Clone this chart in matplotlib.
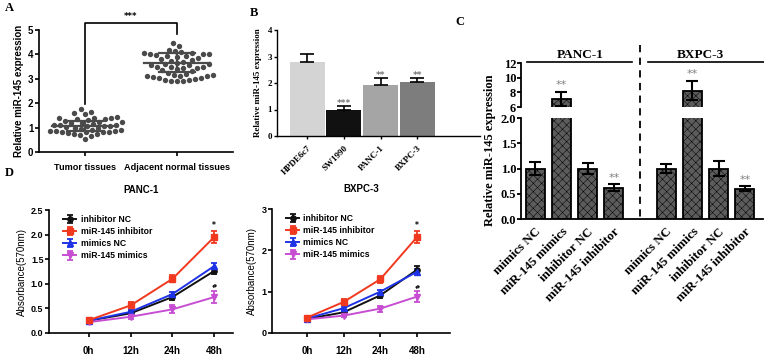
import numpy as np
import matplotlib.pyplot as plt
from matplotlib.transforms import blended_transform_factory
from matplotlib.lines import Line2D

# ---- data ----
# A: scatter of relative miR-145 expression
a_groups = ["Tumor tissues", "Adjacent normal tissues"]
a_tumor = [1.75, 1.62, 1.58, 1.55, 1.42, 1.40, 1.38, 1.36, 1.40, 1.35, 1.30, 1.28,
           1.25, 1.22, 1.20, 1.18, 1.15, 1.12, 1.10, 1.08, 1.05, 1.02, 1.00, 0.98,
           0.95, 0.92, 0.88, 0.85, 0.85, 0.83, 0.82, 0.80, 0.80, 0.78, 0.75, 0.72,
           0.70, 0.65, 0.55, 1.12, 1.05, 0.90]
a_normal = [4.45, 4.35, 4.20, 4.15, 4.10, 4.05, 4.02, 4.00, 3.98, 3.95, 3.90, 3.85,
            3.80, 3.78, 3.75, 3.70, 3.65, 3.62, 3.60, 3.55, 3.50, 3.48, 3.45, 3.40,
            3.35, 3.30, 3.25, 3.20, 3.15, 3.12, 3.10, 3.08, 3.05, 3.00, 2.95, 2.92,
            2.90, 2.90, 3.15, 3.55, 4.05, 4.02, 3.92, 3.50, 3.45, 3.10, 3.05, 2.95]
a_mean = [1.07, 3.66]
a_sd = [0.22, 0.39]

# B: cell lines
b_cells = ["HPDE6c7", "SW1990", "PANC-1", "BXPC-3"]
b_vals = [2.78, 1.00, 1.93, 2.03]
b_err = [0.30, 0.12, 0.25, 0.17]
b_sig = ["", "***", "**", "**"]
b_colors = ["#d4d4d4", "#111111", "#a5a5a5", "#7d7d7d"]

# C: transfection
c_labels = ["mimics NC", "miR-145 mimics", "inhibitor NC", "miR-145 inhibitor"]
c_panc = [1.00, 7.10, 1.00, 0.62]
c_panc_err = [0.12, 1.00, 0.10, 0.07]
c_bxpc = [1.00, 8.20, 1.00, 0.60]
c_bxpc_err = [0.08, 1.30, 0.15, 0.05]
c_panc_sig = ["", "**", "", "**"]
c_bxpc_sig = ["", "**", "", "**"]

# D: absorbance over time
d_time = ["0h", "12h", "24h", "48h"]
d_series = ["inhibitor NC", "miR-145 inhibitor", "mimics NC", "miR-145 mimics"]
d_panc = [[0.25, 0.40, 0.73, 1.26],
          [0.26, 0.56, 1.10, 1.95],
          [0.25, 0.43, 0.79, 1.36],
          [0.22, 0.33, 0.48, 0.73]]
d_panc_err = [[0.03, 0.04, 0.05, 0.07],
              [0.03, 0.06, 0.07, 0.12],
              [0.03, 0.04, 0.05, 0.06],
              [0.03, 0.05, 0.08, 0.13]]
d_bxpc = [[0.34, 0.50, 0.91, 1.53],
          [0.37, 0.75, 1.30, 2.32],
          [0.35, 0.60, 1.00, 1.48],
          [0.33, 0.42, 0.59, 0.88]]
d_bxpc_err = [[0.03, 0.04, 0.06, 0.09],
              [0.03, 0.07, 0.09, 0.15],
              [0.03, 0.04, 0.05, 0.06],
              [0.03, 0.04, 0.07, 0.13]]
d_colors = ["#111111", "#f0391f", "#1f33e6", "#c74ed2"]
d_markers = ["o", "s", "^", "v"]

W, H = 764, 357
fig = plt.figure(figsize=(W / 100, H / 100), dpi=100)

def fax(l, t, r, b):
    return fig.add_axes([l / W, 1 - b / H, (r - l) / W, (b - t) / H])

sans = "Liberation Sans"
serif = "Liberation Serif"

def style(ax, lw=1.2):
    for s in ["top", "right"]:
        ax.spines[s].set_visible(False)
    for s in ["left", "bottom"]:
        ax.spines[s].set_linewidth(lw)
    ax.tick_params(width=lw, length=3)

# ---- panel letters ----
for t, x, y in [("A", 5, 8), ("B", 250, 13), ("C", 455, 22), ("D", 5, 173)]:
    fig.text(x / W, 1 - y / H, t, family=serif, weight="bold", fontsize=9,
             va="center", ha="left")

# ---- A ----
axA = fax(39, 30, 233, 152)
style(axA)
px_x, px_y = 92.0, 24.4   # pixels per data unit
diam = 6.0

def swarm(vals):
    placed = []
    offs = []
    for v in vals:
        y = v * px_y
        k = 0
        while True:
            cands = [0.0] if k == 0 else [k * 1.0, -k * 1.0]
            ok = None
            for c in cands:
                if all((c - px) ** 2 + (y - py) ** 2 >= diam ** 2 for px, py in placed):
                    ok = c
                    break
            if ok is not None:
                placed.append((ok, y))
                offs.append(ok / px_x)
                break
            k += 1
    return np.array(offs)

for i, vals in enumerate([a_tumor, a_normal]):
    offs = swarm(sorted(vals))
    axA.scatter(i + offs, sorted(vals), s=15, color="#4a4a4a", linewidths=0, zorder=3)
    axA.plot([i - 0.36, i + 0.36], [a_mean[i]] * 2, color="#4a4a4a", lw=1.6, zorder=4)
    for sgn in [-1, 1]:
        axA.plot([i - 0.2, i + 0.2], [a_mean[i] + sgn * a_sd[i]] * 2,
                 color="#4a4a4a", lw=1.6, zorder=4)
    axA.plot([i, i], [a_mean[i] - a_sd[i], a_mean[i] + a_sd[i]], color="#4a4a4a",
             lw=1.6, zorder=4)
axA.plot([0, 0, 1, 1], [1.95, 5.3, 5.3, 4.85], color="black", lw=1.2, clip_on=False)
axA.text(0.5, 5.35, "***", ha="center", va="bottom", fontsize=6, weight="bold")
axA.set_xlim(-0.5, 1.61)
axA.set_ylim(0, 5)
axA.set_yticks(range(6))
axA.set_xticks([0, 1])
axA.set_xticklabels(a_groups, family=sans, weight="bold", fontsize=6.6)
for lb in axA.get_yticklabels():
    lb.set_family(sans); lb.set_weight("bold"); lb.set_fontsize(7)
axA.tick_params(axis="y", pad=1)
axA.tick_params(axis="x", pad=5)
axA.set_ylabel("Relative miR-145 expression", family=sans, weight="bold",
               fontsize=7, labelpad=3)

# ---- B ----
axB = fax(277, 30, 480, 136)
style(axB, 1.0)
xb = np.arange(len(b_cells))
axB.bar(xb, b_vals, width=0.95, color=b_colors, zorder=2)
axB.errorbar(xb, b_vals, yerr=[np.zeros(4), b_err], fmt="none", ecolor="black",
             elinewidth=1.2, capsize=5, capthick=1.2, zorder=3)
for x, v, e, s in zip(xb, b_vals, b_err, b_sig):
    if s:
        axB.text(x, v + e - 0.08, s, ha="center", va="bottom", fontsize=6.5,
                 color="#777777", weight="bold")
axB.set_xlim(-0.82, 4.71)
axB.set_ylim(0, 4)
axB.set_yticks(range(5))
axB.set_xticks(xb)
axB.set_xticklabels(b_cells, rotation=45, ha="right", rotation_mode="anchor",
                    family=serif, weight="bold", fontsize=6.5)
for lb in axB.get_yticklabels():
    lb.set_family(serif); lb.set_weight("bold"); lb.set_fontsize(6.5)
axB.tick_params(axis="y", pad=1, length=2.5)
axB.tick_params(axis="x", length=2.5)
axB.set_ylabel("Relative miR-145 expression", family=serif, weight="bold",
               fontsize=6.5, labelpad=4)

# ---- C ----
axCu = fax(521, 63, 763, 107)
axCl = fax(521, 118, 763, 219)
xc = np.array([0, 1, 2, 3, 5, 6, 7, 8])
c_vals = c_panc + c_bxpc
c_errs = c_panc_err + c_bxpc_err
c_sigs = c_panc_sig + c_bxpc_sig
plt.rcParams["hatch.linewidth"] = 0.35
for ax, lo, hi in [(axCu, 6, 12), (axCl, 0, 2)]:
    style(ax, 1.3)
    ax.bar(xc, c_vals, width=0.73, color="#5c5c5c", edgecolor="black", hatch="xxxx",
           linewidth=1.3, zorder=2)
    ax.errorbar(xc, c_vals, yerr=c_errs, fmt="none", ecolor="black", elinewidth=1.5,
                capsize=4.5, capthick=1.5, zorder=3)
    ax.set_ylim(lo, hi)
    ax.set_xlim(-0.54, 8.69)
    ax.tick_params(axis="y", pad=0.5, length=3)
axCu.set_yticks([6, 8, 10, 12])
axCu.set_yticklabels(["6", "8", "10", "12"], family=serif, weight="bold", fontsize=9)
axCu.spines["bottom"].set_visible(False)
axCu.set_xticks([])
axCl.set_yticks([0, 0.5, 1.0, 1.5, 2.0])
axCl.set_yticklabels(["0.0", "0.5", "1.0", "1.5", "2.0"], family=serif,
                     weight="bold", fontsize=9)
axCl.set_xticks(xc)
axCl.set_xticklabels(c_labels * 2, rotation=45, ha="right", rotation_mode="anchor",
                     family=serif, weight="bold", fontsize=9.3)
axCl.tick_params(axis="x", length=0, pad=5)
for x, v, e, s in zip(xc, c_vals, c_errs, c_sigs):
    if s:
        ax = axCu if v > 2 else axCl
        off = 0.25 if v > 2 else 0.03
        ax.text(x, v + e + off, s, ha="center", va="bottom", fontsize=8,
                color="#808080", clip_on=False)
fig.text(490 / W, 1 - 150 / H, "Relative miR-145 expression", rotation=90,
         family=serif, weight="bold", fontsize=9, ha="center", va="center")
tr = blended_transform_factory(axCl.transData, fig.transFigure)
fig.add_artist(Line2D([4, 4], [1 - 45 / H, 1 - 219 / H], transform=tr, color="black",
                      lw=1.3, ls=(0, (4, 3))))
for name, x0, x1, xm in [("PANC-1", -0.3, 3.7, 1.7), ("BXPC-3", 4.3, 8.9, 6.3)]:
    fig.add_artist(Line2D([x0, x1], [1 - 62 / H] * 2, transform=tr, color="black", lw=1.2))
    fig.text(xm, 1 - 55 / H, name, transform=tr, family=serif, weight="bold",
             fontsize=9.5, ha="center", va="center")

# ---- D ----
def growth(ax, data, errs, ymax, yticks, ticklabels, title):
    style(ax, 1.2)
    xt = np.arange(len(d_time))
    for k in range(4):
        ax.errorbar(xt, data[k], yerr=errs[k], color=d_colors[k], marker=d_markers[k],
                    ms=3.8, lw=1.4, elinewidth=1.3, capsize=2.5, capthick=1.3,
                    label=d_series[k], zorder=3 + (k == 1))
    ax.text(3, data[1][3] + errs[1][3] + 0.03, "*", ha="center", va="bottom",
            fontsize=5.5, weight="bold")
    ax.text(3, data[3][3] + errs[3][3] + 0.03, "#", ha="center", va="bottom",
            fontsize=4.5, weight="bold")
    ax.set_ylim(0, ymax)
    ax.set_yticks(yticks)
    ax.set_yticklabels(ticklabels, family=sans, weight="bold", fontsize=6.5)
    ax.set_xticks(xt)
    ax.set_xticklabels(d_time, family=sans, weight="bold", fontsize=7)
    ax.tick_params(axis="x", pad=6, length=3)
    ax.tick_params(axis="y", pad=1, length=3)
    ax.set_ylabel("Absorbance(570nm)", family=sans, fontsize=7, labelpad=3)
    ax.set_title(title, family=sans, weight="bold", fontsize=7, pad=12)
    ax.legend(loc="upper left", frameon=False, handlelength=1.5,
              handletextpad=0.5, labelspacing=0.35, borderaxespad=0.2,
              bbox_to_anchor=(0.05, 1.0),
              prop={"family": sans, "weight": "bold", "size": 6.2})
    return ax

axD1 = fax(49, 210, 233, 333)
growth(axD1, d_panc, d_panc_err, 2.5, [0, 0.5, 1.0, 1.5, 2.0, 2.5],
       ["0.0", "0.5", "1.0", "1.5", "2.0", "2.5"], "PANC-1")
axD1.set_xlim(-0.95, 3.45)

axD2 = fax(272, 209, 450, 333)
growth(axD2, d_bxpc, d_bxpc_err, 3, [0, 1, 2, 3], ["0", "1", "2", "3"], "BXPC-3")
axD2.set_xlim(-0.95, 3.9)

fig.savefig("out.png", dpi=100)
